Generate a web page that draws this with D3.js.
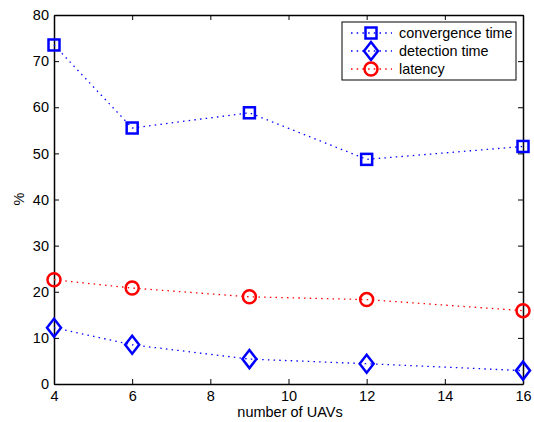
<!DOCTYPE html>
<html>
<head>
<meta charset="utf-8">
<script src="https://cdn.jsdelivr.net/npm/d3@7"></script>
<style>
  body { margin: 0; background: #fff; }
  text { font-family: "Liberation Sans", Arial, sans-serif; fill: #000; }
</style>
</head>
<body>
<svg width="534" height="422"></svg>
<script>
const uavs = [4, 6, 9, 12, 16];
const convergence = [73.5, 55.5, 58.8, 48.7, 51.5];
const detection = [12.2, 8.5, 5.4, 4.4, 2.9];
const latency = [22.6, 20.8, 18.9, 18.3, 15.9];
const xTicks = [4, 6, 8, 10, 12, 14, 16];
const yTicks = [0, 10, 20, 30, 40, 50, 60, 70, 80];
const seriesNames = ['convergence time', 'detection time', 'latency'];

const svg = d3.select('svg');
const mLeft = 54, mRight = 523, mTop = 15, mBottom = 384;

const x = d3.scaleLinear().domain([4, 16]).range([mLeft, mRight]);
const y = d3.scaleLinear().domain([0, 80]).range([mBottom, mTop]);

const series = [
  { name: seriesNames[0], values: convergence, color: '#0000ff', shape: 'square' },
  { name: seriesNames[1], values: detection, color: '#0000ff', shape: 'diamond' },
  { name: seriesNames[2], values: latency, color: '#ff0000', shape: 'circle' }
];

// axes box with inward ticks on all sides
const tick = 5;
svg.append('g').attr('transform', `translate(0,${mBottom})`)
  .call(d3.axisBottom(x).tickValues(xTicks).tickSizeInner(-tick).tickSizeOuter(0).tickPadding(7));
svg.append('g').attr('transform', `translate(0,${mTop})`)
  .call(d3.axisTop(x).tickValues(xTicks).tickSizeInner(-tick).tickSizeOuter(0).tickFormat(''));
svg.append('g').attr('transform', `translate(${mLeft},0)`)
  .call(d3.axisLeft(y).tickValues(yTicks).tickSizeInner(-tick).tickSizeOuter(0).tickPadding(5));
svg.append('g').attr('transform', `translate(${mRight},0)`)
  .call(d3.axisRight(y).tickValues(yTicks).tickSizeInner(-tick).tickSizeOuter(0).tickFormat(''));

svg.selectAll('.domain').attr('stroke', '#000').attr('stroke-width', 1.5);
svg.selectAll('.tick line').attr('stroke', '#000').attr('stroke-width', 1);
svg.selectAll('.tick text').attr('font-size', 14.5).attr('font-family', '"Liberation Sans", Arial, sans-serif');

function marker(g, shape, color) {
  if (shape === 'square') {
    g.append('rect').attr('x', -5.5).attr('y', -5.5).attr('width', 11).attr('height', 11);
  } else if (shape === 'diamond') {
    g.append('path').attr('d', 'M0,-9L7,0L0,9L-7,0Z');
  } else {
    g.append('circle').attr('r', 6.5);
  }
  g.selectAll('*').attr('fill', 'none').attr('stroke', color).attr('stroke-width', 2.5);
}

const line = d3.line().x((d, i) => x(uavs[i])).y(d => y(d));

series.forEach(s => {
  svg.append('path')
    .attr('d', line(s.values))
    .attr('fill', 'none')
    .attr('stroke', s.color)
    .attr('stroke-width', 1.3)
    .attr('stroke-dasharray', '1.5,4.2');
  s.values.forEach((v, i) => {
    const g = svg.append('g').attr('transform', `translate(${x(uavs[i])},${y(v)})`);
    marker(g, s.shape, s.color);
  });
});

// legend
const lg = svg.append('g').attr('transform', 'translate(342,22)');
lg.append('rect').attr('width', 174).attr('height', 58)
  .attr('fill', '#fff').attr('stroke', '#000').attr('stroke-width', 1);
series.forEach((s, i) => {
  const cy = 11 + i * 18;
  lg.append('line').attr('x1', 9).attr('x2', 50).attr('y1', cy).attr('y2', cy)
    .attr('stroke', s.color).attr('stroke-width', 1.3).attr('stroke-dasharray', '1.5,4.2');
  const g = lg.append('g').attr('transform', `translate(29,${cy})`);
  marker(g, s.shape, s.color);
  lg.append('text').attr('x', 57).attr('y', cy + 5).attr('font-size', 14.4).text(s.name);
});

svg.append('text').attr('x', 290).attr('y', 417).attr('text-anchor', 'middle')
  .attr('font-size', 14.5).text('number of UAVs');
svg.append('text').attr('transform', 'translate(24,199) rotate(-90)')
  .attr('text-anchor', 'middle').attr('font-size', 14.5).text('%');
</script>
</body>
</html>
